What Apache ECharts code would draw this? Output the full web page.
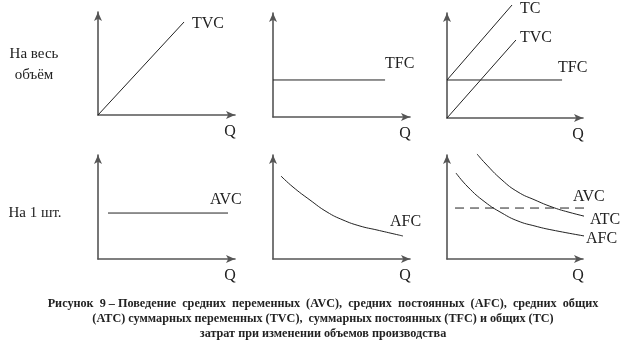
<!DOCTYPE html>
<html lang="ru">
<head>
    <meta charset="utf-8">
    <title>Издержки</title>
    <script src="https://cdn.jsdelivr.net/npm/echarts@6/dist/echarts.min.js"></script>
    <style>
        html, body { margin: 0; padding: 0; background: #fff; }
    </style>
</head>
<body>
<div id="main" style="width:633px;height:353px;"></div>
<script type="text/javascript">
    // данные в условных единицах, 0..10 по каждой оси
    var tvcTotal = [[0, 0], [6.28, 9.03]];                 // панель 1
    var tfcTotal = [[0, 3.56], [8.18, 3.56]];              // панель 2
    var tcAll = [[0, 3.62], [4.78, 10.76]];                // панель 3
    var tvcAll = [[0, 0], [5.07, 7.43]];
    var tfcAll = [[0, 3.62], [8.46, 3.62]];
    var avcUnit = [[0.73, 4.42], [9.49, 4.42]];            // панель 4
    var afcUnit = [[0.58, 7.98], [1.46, 6.92], [2.70, 5.67], [3.94, 4.52],
        [5.11, 3.75], [6.35, 3.17], [7.59, 2.79], [9.49, 2.21]];   // панель 5
    var atcMix = [[2.21, 10.1], [2.79, 9.23], [4.04, 7.60], [5.22, 6.44],
        [6.47, 5.67], [7.72, 5.0], [8.90, 4.52], [10.66, 3.94]];   // панель 6
    var afcMix = [[0.66, 8.27], [1.54, 6.92], [2.79, 5.48], [4.04, 4.42],
        [5.22, 3.65], [6.47, 3.17], [7.72, 2.79], [10.51, 2.12]];
    var avcMix = [[0.59, 4.9], [11.4, 4.9]];

    var rowLabels = ['На весь', 'объём', 'На 1 шт.'];
    var axisName = 'Q';
    var captionLines = [
        'Рисунок  9 – Поведение  средних  переменных  (AVC),  средних  постоянных  (AFC),  средних  общих',
        '(ATC) суммарных переменных (TVC),  суммарных постоянных (TFC) и общих (TC)',
        'затрат при изменении объемов производства'
    ];

    var serif = '"Liberation Serif", "DejaVu Serif", serif';
    var ink = '#222';

    // положение сеток в пикселях
    var grids = [
        {left: 98, top: 12, width: 137, height: 103},
        {left: 273, top: 13, width: 137, height: 104},
        {left: 447, top: 13, width: 136, height: 105},
        {left: 98, top: 155, width: 137, height: 104},
        {left: 273, top: 155, width: 137, height: 104},
        {left: 447, top: 155, width: 136, height: 104}
    ];

    var axisLine = {
        show: true,
        symbol: ['none', 'arrow'],
        symbolSize: [6, 9],
        lineStyle: {color: '#555', width: 1.6}
    };

    var xAxes = grids.map(function (g, i) {
        return {
            type: 'value', gridIndex: i, min: 0, max: 10,
            name: axisName, nameLocation: 'end', nameGap: -5,
            nameTextStyle: {
                fontFamily: serif, fontSize: 16, color: ink,
                align: 'center', verticalAlign: 'top', padding: [9, 0, 0, 0]
            },
            axisLine: axisLine, axisTick: {show: false},
            axisLabel: {show: false}, splitLine: {show: false}
        };
    });
    var yAxes = grids.map(function (g, i) {
        return {
            type: 'value', gridIndex: i, min: 0, max: 10,
            axisLine: axisLine, axisTick: {show: false},
            axisLabel: {show: false}, splitLine: {show: false}
        };
    });

    function curve(idx, name, data, offset, opts) {
        opts = opts || {};
        return {
            type: 'line', name: name, xAxisIndex: idx, yAxisIndex: idx,
            data: data, showSymbol: false, symbol: 'none',
            smooth: opts.smooth || false, clip: false,
            lineStyle: {color: ink, width: 1, type: opts.dash ? [9, 6] : 'solid'},
            endLabel: {
                show: true, formatter: name, distance: 0, offset: offset,
                fontFamily: serif, fontSize: 16, color: ink
            }
        };
    }

    var series = [
        curve(0, 'TVC', tvcTotal, [8, 2]),
        curve(1, 'TFC', tfcTotal, [0, -16]),
        curve(2, 'TC', tcAll, [8, 4]),
        curve(2, 'TVC', tvcAll, [4, -2]),
        curve(2, 'TFC', tfcAll, [-4, -12]),
        curve(3, 'AVC', avcUnit, [-18, -13]),
        curve(4, 'AFC', afcUnit, [-13, -14], {smooth: true}),
        curve(5, 'ATC', atcMix, [6, 4], {smooth: true}),
        curve(5, 'AFC', afcMix, [2, 3], {smooth: true}),
        curve(5, 'AVC', avcMix, [-11, -11], {dash: true})
    ];

    function txt(s, x, y, size, weight) {
        return {
            type: 'text', x: x, y: y,
            style: {
                text: s, fontFamily: serif, fontSize: size, fontWeight: weight || 'normal',
                fill: ink, align: 'center', verticalAlign: 'middle'
            }
        };
    }

    var graphics = [
        txt(rowLabels[0], 34, 54, 15),
        txt(rowLabels[1], 34, 75, 15),
        txt(rowLabels[2], 35, 213, 15)
    ];
    captionLines.forEach(function (line, i) {
        graphics.push(txt(line, 323, 304 + i * 15, 12.2, 'bold'));
    });

    var chart = echarts.init(document.getElementById('main'));
    chart.setOption({
        backgroundColor: '#ffffff',
        animation: false,
        grid: grids,
        xAxis: xAxes,
        yAxis: yAxes,
        series: series,
        graphic: graphics
    });
</script>
</body>
</html>
